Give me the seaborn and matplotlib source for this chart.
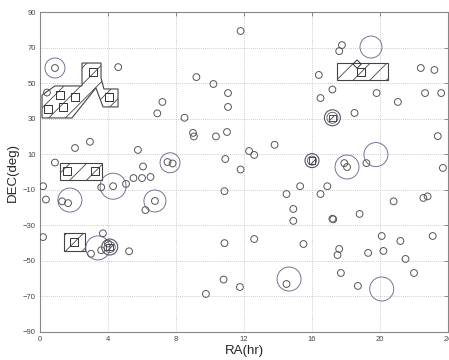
import numpy as np
import pandas as pd
import matplotlib
matplotlib.use("Agg")
import matplotlib.pyplot as plt
import seaborn as sns

# ---- data: point sources (RA hr, DEC deg) ----
src_ra = [0.88, 0.41, 4.6, 6.9, 7.2, 8.5, 9.2, 10.2, 9.0, 9.05, 10.35, 2.06, 2.94, 0.88, 5.76, 6.06,
          7.5, 7.8, 11.8, 17.76, 17.6, 22.4, 23.2, 16.4, 17.2, 16.5, 19.8, 21.05, 22.65, 23.6,
          11.06, 11.06, 18.5, 11.0, 23.4, 13.8, 12.3, 12.6, 10.9, 11.8, 17.9, 18.06, 19.2, 23.7,
          20.8, 22.55, 22.8, 16.9, 16.5, 15.3, 14.5, 17.2, 17.25, 18.8, 14.9, 14.9, 10.85, 10.85,
          12.6, 15.5, 17.6, 17.5, 20.1, 20.2, 21.2, 23.1, 19.3, 21.5, 22.0, 17.7, 10.8, 11.76,
          14.5, 18.7, 9.76, 0.18, 0.35, 1.3, 1.65, 3.6, 4.3, 5.06, 5.5, 6.0, 6.5, 6.76, 6.2,
          0.18, 3.7, 3.0, 3.6, 5.24, 4.0]
src_dec = [58.5, 44.7, 59.0, 33.0, 39.4, 30.5, 53.4, 49.5, 22.0, 20.0, 20.0, 13.5, 17.0, 5.3, 12.4, 3.1,
           5.6, 4.8, 79.3, 71.4, 68.0, 58.5, 57.4, 54.6, 46.4, 41.6, 44.4, 39.4, 44.4, 44.4,
           44.4, 36.6, 33.2, 22.5, 20.2, 15.3, 11.8, 9.6, 7.3, 1.4, 5.0, 2.8, 5.0, 2.3,
           -16.5, -14.6, -13.7, -8.0, -12.4, -8.0, -12.4, -26.3, -26.6, -23.6, -20.8, -27.5, -10.8, -40.0,
           -37.7, -40.5, -43.3, -46.7, -36.0, -44.4, -38.8, -36.0, -45.5, -48.9, -56.8, -56.8, -60.5, -64.7,
           -63.0, -64.1, -68.6, -8.0, -15.5, -16.5, -17.5, -8.6, -8.0, -6.7, -3.4, -3.4, -2.8, -16.3, -21.4,
           -36.6, -34.5, -46.0, -44.0, -44.6, -40.2]

# ---- data: error circles (RA, DEC, radius in px) ----
ring_ra = [0.88, 7.65, 19.47, 18.06, 19.76, 14.65, 20.1, 1.76, 4.3, 6.76, 3.4]
ring_dec = [58.5, 5.2, 70.3, 2.8, 9.8, -60.2, -65.8, -15.8, -8.0, -16.3, -42.7]
ring_r = [10, 10, 11, 12, 12, 12, 12, 12, 13, 11, 12]

# ---- data: ringed hatched sources ----
hring_ra = [17.2, 16.0, 4.1]
hring_dec = [30.5, 6.4, -42.2]
hring_r = [8, 7, 8]

# ---- data: squares inside hatched regions ----
sq_ra = [0.47, 1.18, 1.35, 2.06, 3.1, 4.06, 1.59, 3.24, 2.0, 18.9]
sq_dec = [35.4, 43.3, 36.6, 42.2, 56.3, 42.2, 0.6, 0.6, -39.4, 56.3]
dia_ra = [18.65]
dia_dec = [60.7]

# ---- data: hatched region outlines (RA, DEC vertices) ----
regA_ra = [0.12, 1.88, 3.29, 3.71, 4.59, 4.59, 3.76, 3.59, 3.59, 2.47, 2.47, 0.88, 0.12]
regA_dec = [30.4, 30.4, 47.3, 36.6, 36.6, 46.7, 46.7, 52.9, 61.3, 61.3, 48.4, 48.4, 43.3]
regB_ra = [1.18, 3.65, 3.65, 1.18]
regB_dec = [-4.5, -4.5, 5.1, 5.1]
regC_ra = [1.41, 2.65, 2.65, 1.41]
regC_dec = [-44.4, -44.4, -34.3, -34.3]
regD_ra = [17.47, 20.47, 20.47, 17.47]
regD_dec = [51.8, 51.8, 61.3, 61.3]

x_ticks = [0, 4, 8, 12, 16, 20, 24]
y_ticks = [-90, -70, -50, -30, -10, 10, 30, 50, 70, 90]

sns.set_style("white")
plt.rcParams["font.family"] = ["Liberation Sans", "DejaVu Sans"]
plt.rcParams["hatch.linewidth"] = 0.6
plt.rcParams["hatch.color"] = "#444444"

fig = plt.figure(figsize=(4.49, 3.60), dpi=100)
ax = fig.add_axes([40 / 449, 1 - 332 / 360, 408 / 449, 320 / 360])

dark = "#555555"
ringc = "#6a6a90"

# hatched regions
for rx, ry in [(regA_ra, regA_dec), (regB_ra, regB_dec), (regC_ra, regC_dec), (regD_ra, regD_dec)]:
    ax.fill(rx, ry, facecolor="none", edgecolor="#444444", hatch="//", linewidth=0.8, zorder=2)

def px2s(r):
    d = 2 * r * 72 / 100.0
    return d * d

src = pd.DataFrame({"ra": src_ra, "dec": src_dec})
sns.scatterplot(data=src, x="ra", y="dec", ax=ax, marker="o", s=24, facecolor="none",
                edgecolor=dark, linewidth=0.7, zorder=4, legend=False)

rings = pd.DataFrame({"ra": ring_ra, "dec": ring_dec, "r": ring_r})
sns.scatterplot(data=rings, x="ra", y="dec", ax=ax, marker="o", s=[px2s(r) for r in ring_r],
                facecolor="none", edgecolor=ringc, linewidth=0.65, zorder=3, legend=False)

hr = pd.DataFrame({"ra": hring_ra, "dec": hring_dec})
sns.scatterplot(data=hr, x="ra", y="dec", ax=ax, marker="o", s=[px2s(r) for r in hring_r],
                facecolor="none", edgecolor="#555566", linewidth=0.8, zorder=3, legend=False)
sns.scatterplot(data=hr, x="ra", y="dec", ax=ax, marker="o", s=[px2s(r - 2.5) for r in hring_r],
                facecolor="none", edgecolor="#555566", linewidth=0.6, zorder=3, legend=False)
sns.scatterplot(data=hr, x="ra", y="dec", ax=ax, marker="s", s=22, facecolor="none",
                edgecolor="#333333", hatch="////", linewidth=0.6, zorder=4, legend=False)

sq = pd.DataFrame({"ra": sq_ra, "dec": sq_dec})
sns.scatterplot(data=sq, x="ra", y="dec", ax=ax, marker="s", s=30, facecolor="none",
                edgecolor="#333333", linewidth=0.7, zorder=4, legend=False)
dia = pd.DataFrame({"ra": dia_ra, "dec": dia_dec})
sns.scatterplot(data=dia, x="ra", y="dec", ax=ax, marker="D", s=18, facecolor="none",
                edgecolor="#333333", linewidth=0.7, zorder=4, legend=False)

ax.set_xlim(0, 24)
ax.set_ylim(-90, 90)
ax.set_xticks(x_ticks)
ax.set_yticks(y_ticks)
ax.grid(True, linestyle=(0, (1, 1.5)), color="#bbbbbb", linewidth=0.6)
ax.tick_params(axis="both", which="both", direction="in", length=3, width=0.6,
               labelsize=5.5, labelcolor="#444444", color="#777777",
               top=True, right=True, pad=3)
for s in ax.spines.values():
    s.set_color("#888888")
    s.set_linewidth(0.8)
ax.set_xlabel("RA(hr)", fontsize=9.5, labelpad=1)
ax.set_ylabel("DEC(deg)", fontsize=9.5, labelpad=3)

fig.savefig("out.png", dpi=100)
